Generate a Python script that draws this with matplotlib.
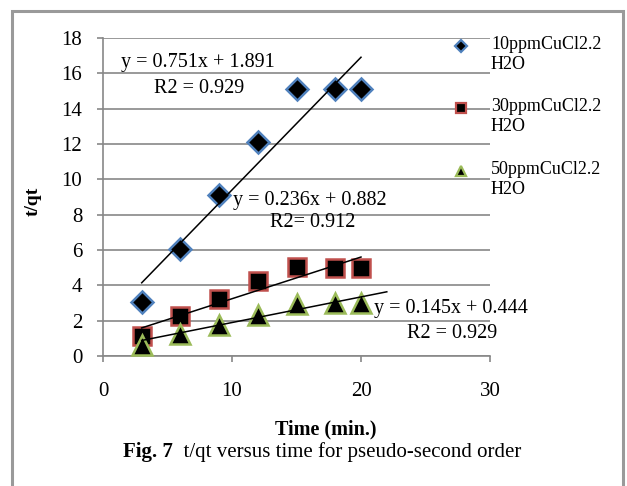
"""t/qt versus time, pseudo-second order kinetics (Fig. 7)."""
import matplotlib
matplotlib.use("Agg")
import matplotlib.pyplot as plt
from matplotlib.patches import Rectangle

W, H = 627, 486

time_min = [3, 6, 9, 12, 15, 18, 20]
tqt_10ppm = [3.05, 6.05, 9.1, 12.1, 15.1, 15.1, 15.1]
tqt_30ppm = [1.15, 2.25, 3.2, 4.25, 5.05, 5.0, 5.0]
tqt_50ppm = [0.6, 1.25, 1.75, 2.3, 2.95, 3.0, 3.0]

labels = ["10ppmCuCl2.2\nH2O", "30ppmCuCl2.2\nH2O", "50ppmCuCl2.2\nH2O"]
slopes = [0.751, 0.236, 0.145]
intercepts = [1.891, 0.882, 0.444]
fit_ranges = [(3, 20), (3, 20), (3, 22)]
eq_texts = [("y = 0.751x + 1.891", "R2 = 0.929"),
            ("y = 0.236x + 0.882", "R2= 0.912"),
            ("y = 0.145x + 0.444", "R2 = 0.929")]

x_ticks = [0, 10, 20, 30]
y_ticks = list(range(0, 19, 2))

GRID = "#878787"
EDGES = ["#4F81BD", "#C0504D", "#9BBB59"]
MARKERS = ["D", "s", "^"]
MSIZE = [11, 13.5, 14]

plt.rcParams["font.family"] = ["Liberation Serif", "DejaVu Serif"]


def px(x, y):
    # pixel coords (from top-left) -> figure fraction
    return x / W, 1 - y / H


fig = plt.figure(figsize=(W / 100, H / 100), dpi=100)
fig.patches.append(Rectangle(px(12, 500), (623 - 12) / W, (500 - 11) / H,
                             transform=fig.transFigure, fill=False,
                             edgecolor="#9a9a9a", linewidth=2.2))

left, right, top, bottom = 103, 490, 38, 356
ax = fig.add_axes([left / W, 1 - bottom / H, (right - left) / W, (bottom - top) / H])

series = [tqt_10ppm, tqt_30ppm, tqt_50ppm]
for ys, edge, mk, ms in zip(series, EDGES, MARKERS, MSIZE):
    ax.plot(time_min, ys, linestyle="none", marker=mk, markersize=ms,
            markerfacecolor="black", markeredgecolor=edge,
            markeredgewidth=1.8, zorder=3, clip_on=False)

for m, b, (x0, x1) in zip(slopes, intercepts, fit_ranges):
    ax.plot([x0, x1], [m * x0 + b, m * x1 + b], color="black",
            linewidth=1.1, zorder=4)

ax.set_xlim(0, 30)
ax.set_ylim(0, 18)
ax.set_xticks(x_ticks)
ax.set_yticks(y_ticks)
ax.yaxis.grid(True, color=GRID, linewidth=1.2)
ax.set_axisbelow(True)
for s in ["top", "right"]:
    ax.spines[s].set_visible(False)
for s in ["left", "bottom"]:
    ax.spines[s].set_color(GRID)
    ax.spines[s].set_linewidth(1.2)
ax.tick_params(axis="both", direction="out", length=4, width=1.2,
               color=GRID, labelsize=15)
ax.tick_params(axis="x", pad=15)
ax.tick_params(axis="y", pad=11)

# equation labels
eq_pos = [((121, 63), (154, 88)), ((233, 200), (270, 222)), ((374, 308), (407, 333))]
for (eq, r2), ((ex, ey), (rx, ry)) in zip(eq_texts, eq_pos):
    fig.text(*px(ex, ey), eq, fontsize=14.5, va="center", ha="left")
    fig.text(*px(rx, ry), r2, fontsize=14.5, va="center", ha="left")

# legend drawn by hand so the marker sits beside the first text line
legend_y = [46, 108, 171]
for lab, edge, mk, ly in zip(labels, EDGES, MARKERS, legend_y):
    fig.lines.append(plt.Line2D([461 / W], [1 - ly / H], transform=fig.transFigure,
                                marker=mk, markersize=7 if mk != "D" else 6,
                                markerfacecolor="black", markeredgecolor=edge,
                                markeredgewidth=1.6, linestyle="none"))
    fig.text(491 / W, 1 - (ly - 10) / H, lab, fontsize=13, va="top", ha="left",
             linespacing=1.25)

fig.text(*px(33, 201), "t/qt", fontsize=14, fontweight="bold",
         rotation=90, va="center", ha="center")
fig.text(*px(326, 429), "Time (min.)", fontsize=14.5, fontweight="bold",
         va="center", ha="center")

# caption: bold "Fig. 7" followed by plain text
renderer = fig.canvas.get_renderer()
cap_y = 1 - 452 / H
t1 = fig.text(123 / W, cap_y, "Fig. 7", fontsize=15, fontweight="bold",
              va="center", ha="left")
w1 = t1.get_window_extent(renderer).width
fig.text((123 + w1) / W, cap_y, "  t/qt versus time for pseudo-second order",
         fontsize=15, va="center", ha="left")

fig.savefig("out.png", dpi=100)
